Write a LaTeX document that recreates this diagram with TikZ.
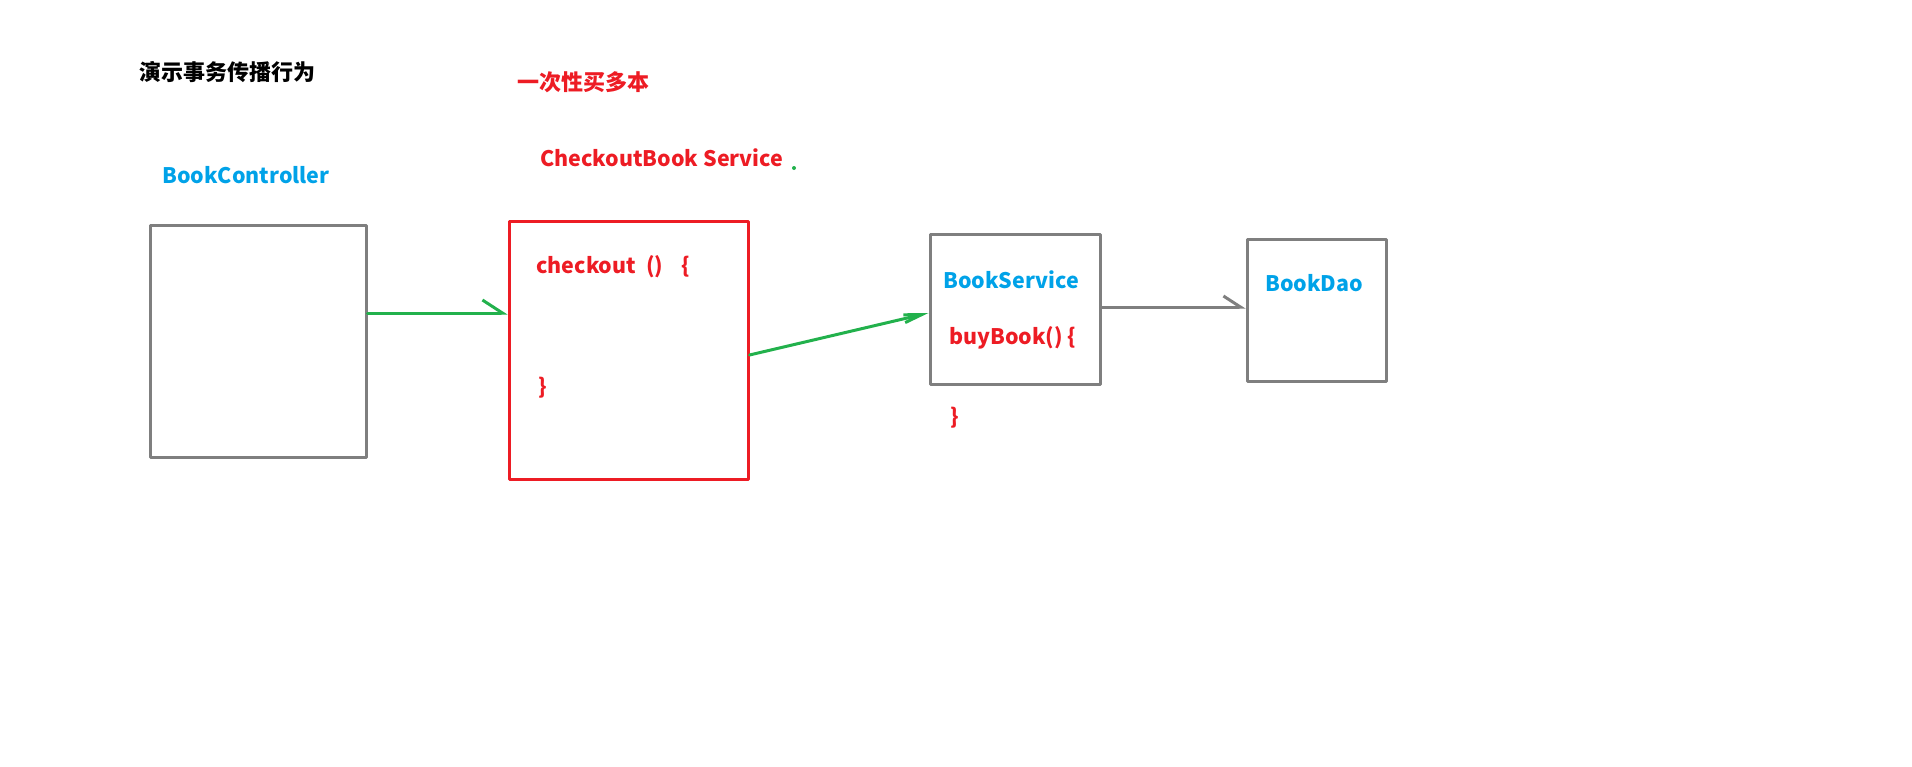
\documentclass[tikz,border=0pt]{standalone}
\usepackage{fontspec}
\setmainfont{Noto Sans CJK SC}
\usetikzlibrary{arrows.meta}
\definecolor{paintred}{HTML}{ED1C24}
\definecolor{paintblue}{HTML}{00A2E8}
\definecolor{paintgreen}{HTML}{22B14C}
\definecolor{paintgray}{HTML}{7F7F7F}
\tikzset{
  box/.style 2 args={draw=paintgray,line width=3pt,minimum width=#1,minimum height=#2,inner sep=0},
  txt/.style={inner sep=0,anchor=west,font=\bfseries\fontsize{21.4}{26}\selectfont},
  cjktxt/.style={txt,font=\bfseries\fontsize{22}{26}\selectfont},
  flow/.style={line width=3pt,draw=paintgreen},
}
\begin{document}
\begin{tikzpicture}[x=1pt,y=-1pt,line cap=round,line join=round]
    \useasboundingbox (0,0) rectangle (1912,766);
    % titles
    \node[cjktxt] (title) at (139,72) {演示事务传播行为};
    \node[cjktxt,text=paintred] (many) at (517,82) {一次性买多本};
    \node[txt,text=paintred] (chkname) at (540,158) {CheckoutBook Service};
    \fill[paintgreen] (794,168) circle (2);
    % boxes
    \node[box={216pt}{232pt}] (ctrl) at (258,341) {};
    \node[txt,text=paintblue] (ctrlname) at (162,175) {BookController};
    \node[box={239pt}{258pt},draw=paintred] (chk) at (628.5,350) {};
    \node[txt,text=paintred] (chkopen) at (536,267) {checkout\hspace{10pt}()\hspace{18pt}\{};
    \node[txt,text=paintred] (chkclose) at (538,388) {\}};
    \node[box={170pt}{150pt}] (svc) at (1015,309) {};
    \node[txt,text=paintblue] (svcname) at (943,280) {BookService};
    \node[txt,text=paintred] (buyopen) at (949,338) {buyBook() \{};
    \node[txt,text=paintred] (buyclose) at (950,418) {\}};
    \node[box={139pt}{142pt}] (dao) at (1316.5,310) {};
    \node[txt,text=paintblue] (daoname) at (1265,283) {BookDao};
    % calls
    \draw[flow,-{Straight Barb[harpoon,length=20pt,width=26pt,line width=3pt]}]
        ([yshift=28]ctrl.east) -- ([yshift=28]ctrl.east -| chk.west);
    \draw[flow,-{Straight Barb[length=18pt,width=8pt,line width=3pt]}]
        ([yshift=-5]chk.east) -- ([yshift=-4]svc.west);
    \draw[line width=3pt,draw=paintgray,-{Straight Barb[harpoon,length=17pt,width=22pt,line width=3pt]}]
        ([yshift=2]svc.east) -- ([yshift=2]svc.east -| dao.west);
\end{tikzpicture}
\end{document}
